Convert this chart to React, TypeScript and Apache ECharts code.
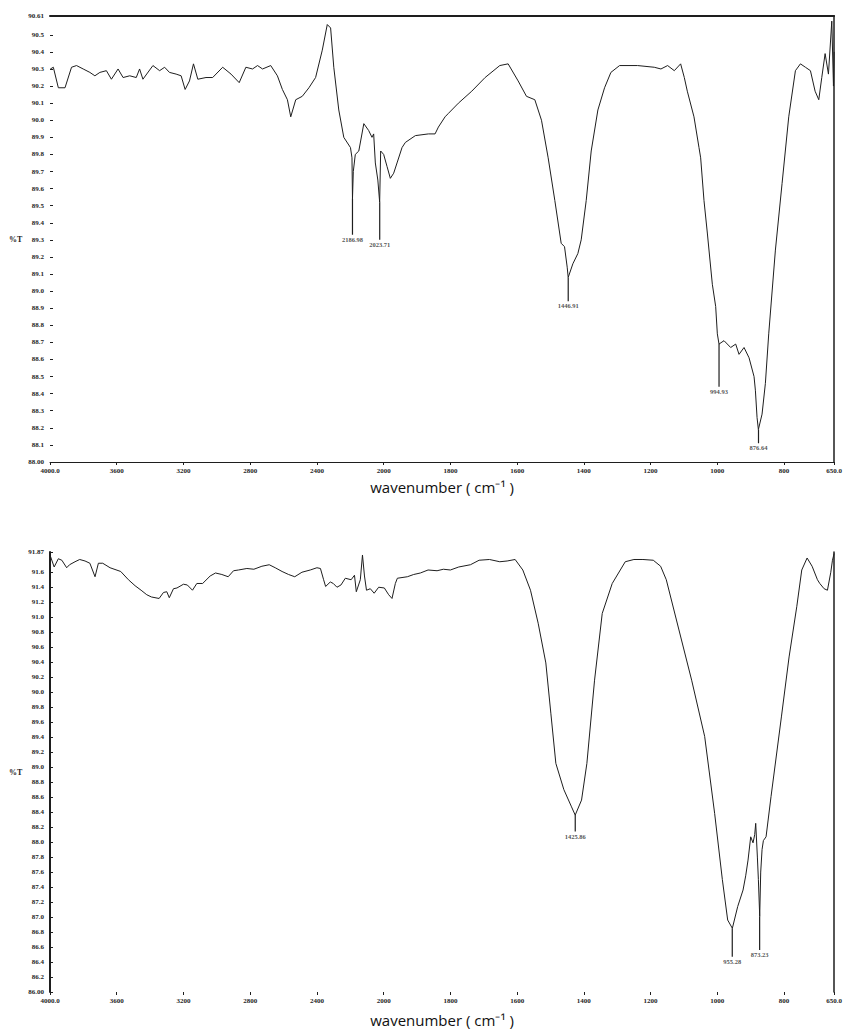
import React, { useEffect, useRef } from "react";
import * as echarts from "echarts";

// ---- axis ticks (wavenumber axis has a scale change at 2000 cm-1) ----
const X_TICK_WAVENUMBERS = [4000, 3600, 3200, 2800, 2400, 2000, 1800, 1600, 1400, 1200, 1000, 800, 650];
const X_TICK_LABELS = ["4000.0", "3600", "3200", "2800", "2400", "2000", "1800", "1600", "1400", "1200", "1000", "800", "650.0"];

const TOP_Y_TICKS = [88.0, 88.1, 88.2, 88.3, 88.4, 88.5, 88.6, 88.7, 88.8, 88.9, 89.0, 89.1, 89.2, 89.3, 89.4, 89.5, 89.6, 89.7, 89.8, 89.9, 90.0, 90.1, 90.2, 90.3, 90.4, 90.5, 90.61];
const TOP_Y_LABELS = ["88.00", "88.1", "88.2", "88.3", "88.4", "88.5", "88.6", "88.7", "88.8", "88.9", "89.0", "89.1", "89.2", "89.3", "89.4", "89.5", "89.6", "89.7", "89.8", "89.9", "90.0", "90.1", "90.2", "90.3", "90.4", "90.5", "90.61"];

const BOT_Y_TICKS = [86.0, 86.2, 86.4, 86.6, 86.8, 87.0, 87.2, 87.4, 87.6, 87.8, 88.0, 88.2, 88.4, 88.6, 88.8, 89.0, 89.2, 89.4, 89.6, 89.8, 90.0, 90.2, 90.4, 90.6, 90.8, 91.0, 91.2, 91.4, 91.6, 91.87];
const BOT_Y_LABELS = ["86.00", "86.2", "86.4", "86.6", "86.8", "87.0", "87.2", "87.4", "87.6", "87.8", "88.0", "88.2", "88.4", "88.6", "88.8", "89.0", "89.2", "89.4", "89.6", "89.8", "90.0", "90.2", "90.4", "90.6", "90.8", "91.0", "91.2", "91.4", "91.6", "91.87"];

// ---- spectrum 1 (top) ----
const TOP_WN = [3998, 3980, 3950, 3910, 3871, 3841, 3801, 3761, 3731, 3701, 3662, 3632, 3592, 3562, 3522, 3483, 3463, 3443, 3383, 3343, 3313, 3284, 3244, 3214, 3190, 3164, 3140, 3114, 3065, 3025, 2965, 2915, 2866, 2826, 2786, 2756, 2726, 2677, 2637, 2607, 2577, 2557, 2527, 2488, 2448, 2408, 2368, 2338, 2318, 2299, 2269, 2239, 2199, 2190, 2187, 2182, 2170, 2149, 2119, 2090, 2070, 2060, 2050, 2035, 2024, 2018, 2000, 1990, 1980, 1970, 1960, 1945, 1935, 1905, 1866, 1846, 1836, 1816, 1806, 1776, 1736, 1696, 1652, 1627, 1597, 1572, 1547, 1527, 1507, 1487, 1468, 1458, 1450, 1447, 1433, 1418, 1408, 1393, 1378, 1358, 1338, 1319, 1293, 1239, 1189, 1169, 1149, 1129, 1110, 1099, 1090, 1070, 1055, 1050, 1040, 1030, 1015, 1005, 1000, 995, 980, 960, 945, 935, 920, 905, 890, 886, 881, 877, 866, 856, 846, 826, 806, 786, 766, 751, 736, 721, 707, 696, 687, 677, 667, 657, 652, 650];
const TOP_T = [90.30, 90.31, 90.19, 90.19, 90.31, 90.32, 90.30, 90.28, 90.26, 90.28, 90.29, 90.24, 90.30, 90.25, 90.26, 90.25, 90.30, 90.24, 90.32, 90.29, 90.31, 90.28, 90.27, 90.26, 90.18, 90.23, 90.33, 90.24, 90.25, 90.25, 90.31, 90.27, 90.22, 90.31, 90.30, 90.32, 90.30, 90.32, 90.26, 90.18, 90.12, 90.02, 90.12, 90.14, 90.19, 90.25, 90.41, 90.56, 90.54, 90.31, 90.06, 89.90, 89.84, 89.78, 89.54, 89.70, 89.80, 89.82, 89.98, 89.94, 89.90, 89.92, 89.75, 89.65, 89.52, 89.82, 89.80, 89.73, 89.66, 89.69, 89.75, 89.84, 89.87, 89.91, 89.92, 89.92, 89.96, 90.02, 90.04, 90.10, 90.17, 90.25, 90.32, 90.33, 90.23, 90.14, 90.12, 90.00, 89.78, 89.53, 89.28, 89.26, 89.14, 89.08, 89.16, 89.22, 89.30, 89.53, 89.82, 90.06, 90.19, 90.28, 90.32, 90.32, 90.31, 90.30, 90.32, 90.29, 90.33, 90.25, 90.17, 90.02, 89.84, 89.78, 89.53, 89.34, 89.04, 88.91, 88.75, 88.69, 88.71, 88.67, 88.69, 88.63, 88.67, 88.61, 88.50, 88.42, 88.26, 88.19, 88.28, 88.46, 88.75, 89.24, 89.63, 90.02, 90.29, 90.33, 90.31, 90.29, 90.17, 90.12, 90.25, 90.39, 90.27, 90.58, 90.20, 90.40];
const TOP_PEAKS = [2186.98, 2023.71, 1446.91, 994.93, 876.64];
const TOP_STEM_FROM = [89.54, 89.52, 89.08, 88.69, 88.19];
const TOP_STEM_TO = [89.33, 89.30, 88.94, 88.44, 88.11];

// ---- spectrum 2 (bottom) ----
const BOT_WN = [4000, 3975, 3950, 3929, 3900, 3883, 3850, 3822, 3790, 3761, 3730, 3710, 3684, 3640, 3576, 3530, 3490, 3454, 3420, 3392, 3346, 3320, 3300, 3285, 3260, 3239, 3200, 3177, 3146, 3120, 3085, 3040, 3008, 2970, 2932, 2900, 2870, 2820, 2778, 2730, 2686, 2650, 2609, 2570, 2533, 2490, 2440, 2400, 2379, 2360, 2348, 2320, 2302, 2280, 2256, 2230, 2195, 2175, 2164, 2140, 2127, 2115, 2103, 2080, 2057, 2030, 1998, 1985, 1975, 1965, 1959, 1929, 1910, 1890, 1867, 1840, 1821, 1800, 1775, 1740, 1714, 1683, 1652, 1630, 1606, 1583, 1560, 1537, 1514, 1499, 1484, 1460, 1437, 1426, 1407, 1391, 1368, 1345, 1315, 1276, 1250, 1223, 1192, 1170, 1153, 1115, 1077, 1038, 1008, 985, 969, 955, 939, 923, 915, 908, 900, 893, 888, 885, 880, 877, 873, 870, 866, 862, 854, 839, 808, 785, 762, 747, 731, 716, 700, 693, 680, 670, 660, 655, 650];
const BOT_T = [91.83, 91.67, 91.78, 91.76, 91.66, 91.70, 91.74, 91.77, 91.75, 91.72, 91.54, 91.72, 91.72, 91.66, 91.61, 91.50, 91.42, 91.36, 91.30, 91.27, 91.25, 91.33, 91.34, 91.26, 91.38, 91.39, 91.44, 91.43, 91.36, 91.45, 91.45, 91.55, 91.59, 91.57, 91.54, 91.62, 91.63, 91.65, 91.64, 91.68, 91.70, 91.66, 91.61, 91.57, 91.54, 91.60, 91.63, 91.66, 91.65, 91.50, 91.41, 91.47, 91.45, 91.40, 91.43, 91.52, 91.50, 91.56, 91.34, 91.50, 91.83, 91.55, 91.36, 91.38, 91.32, 91.40, 91.39, 91.30, 91.25, 91.45, 91.52, 91.54, 91.57, 91.59, 91.63, 91.62, 91.64, 91.63, 91.67, 91.70, 91.76, 91.77, 91.74, 91.75, 91.77, 91.63, 91.36, 90.92, 90.39, 89.72, 89.05, 88.70, 88.47, 88.36, 88.56, 89.05, 90.16, 91.05, 91.45, 91.74, 91.77, 91.77, 91.76, 91.68, 91.50, 90.83, 90.16, 89.41, 88.38, 87.50, 86.96, 86.85, 87.14, 87.36, 87.55, 87.76, 88.07, 87.99, 88.10, 88.25, 87.80, 87.50, 87.01, 87.60, 87.90, 88.02, 88.07, 88.61, 89.67, 90.47, 91.14, 91.63, 91.79, 91.68, 91.50, 91.45, 91.38, 91.36, 91.60, 91.76, 91.85];
const BOT_PEAKS = [1425.86, 955.28, 873.23];
const BOT_STEM_FROM = [88.36, 86.85, 87.01];
const BOT_STEM_TO = [88.14, 86.47, 86.56];

// piecewise wavenumber scale: 400 cm-1 per division above 2000, 200 below
function toAxis(w: number): number {
  return w >= 2000 ? (4000 - w) / 400 : 5 + (2000 - w) / 200;
}

const X_TICK_POS = X_TICK_WAVENUMBERS.map(toAxis);
const X_MAX = toAxis(650);

const INK = "#1e1e1e";
const SERIF = "'Liberation Serif', 'DejaVu Serif', serif";
const SANS = "'Open Sans', 'Liberation Sans', sans-serif";

function lookup(ticks: number[], labels: string[], v: number): string {
  for (let i = 0; i < ticks.length; i++) if (Math.abs(ticks[i] - v) < 1e-6) return labels[i];
  return "";
}

function xAxisMain(gridIndex: number, showLine: boolean, nameGap: number) {
  return {
    type: "value",
    gridIndex,
    min: 0,
    max: X_MAX,
    axisLine: { show: showLine, lineStyle: { color: INK, width: 1 } },
    axisTick: { show: true, customValues: X_TICK_POS, length: 3, lineStyle: { color: INK } },
    axisLabel: {
      customValues: X_TICK_POS,
      formatter: (v: number) => lookup(X_TICK_POS, X_TICK_LABELS, v),
      fontFamily: SERIF,
      fontSize: 7,
      fontWeight: "bold",
      color: INK,
      margin: 5,
    },
    splitLine: { show: false },
    name: "wavenumber ( cm⁻¹ )",
    nameLocation: "middle",
    nameGap,
    nameTextStyle: { fontFamily: SANS, fontSize: 15, color: "#111" },
  };
}

function frameAxisX(gridIndex: number, width: number) {
  return {
    type: "value",
    gridIndex,
    position: "top",
    min: 0,
    max: X_MAX,
    axisLine: { show: true, onZero: false, lineStyle: { color: INK, width } },
    axisTick: { show: false },
    axisLabel: { show: false },
    splitLine: { show: false },
  };
}

function yAxisMain(gridIndex: number, min: number, max: number, ticks: number[], labels: string[], showLine: boolean) {
  return {
    type: "value",
    gridIndex,
    min,
    max,
    axisLine: { show: showLine, onZero: false, lineStyle: { color: INK, width: 2 } },
    axisTick: { show: true, inside: true, customValues: ticks, length: 3, lineStyle: { color: INK } },
    axisLabel: {
      customValues: ticks,
      formatter: (v: number) => lookup(ticks, labels, v),
      fontFamily: SERIF,
      fontSize: 7,
      fontWeight: "bold",
      color: INK,
      margin: 6,
    },
    splitLine: { show: false },
    name: "%T",
    nameLocation: "middle",
    nameRotate: 0,
    nameGap: 26,
    nameTextStyle: { fontFamily: SERIF, fontSize: 8, fontWeight: "bold", color: INK },
  };
}

function frameAxisY(gridIndex: number, min: number, max: number) {
  return {
    type: "value",
    gridIndex,
    position: "right",
    min,
    max,
    axisLine: { show: true, onZero: false, lineStyle: { color: INK, width: 1.5 } },
    axisTick: { show: false },
    axisLabel: { show: false },
    splitLine: { show: false },
  };
}

function spectrum(wn: number[], t: number[], xi: number, yi: number) {
  return {
    type: "line",
    xAxisIndex: xi,
    yAxisIndex: yi,
    data: wn.map((w, i) => [toAxis(w), t[i]]),
    symbol: "none",
    showSymbol: false,
    lineStyle: { color: INK, width: 1 },
    silent: true,
  };
}

function peakSeries(peaks: number[], from: number[], to: number[], xi: number, yi: number) {
  const stems = peaks.map((p, i) => ({
    type: "line",
    xAxisIndex: xi,
    yAxisIndex: yi,
    data: [
      [toAxis(p), from[i]],
      [toAxis(p), to[i]],
    ],
    symbol: "none",
    lineStyle: { color: INK, width: 1.2 },
    silent: true,
  }));
  const labels = {
    type: "scatter",
    xAxisIndex: xi,
    yAxisIndex: yi,
    symbolSize: 0,
    data: peaks.map((p, i) => ({ value: [toAxis(p), to[i]], name: p.toFixed(2) })),
    label: {
      show: true,
      position: "bottom",
      distance: 1,
      formatter: (d: any) => d.name,
      fontFamily: SERIF,
      fontSize: 6.5,
      fontWeight: "bold",
      color: INK,
    },
    silent: true,
  };
  return [...stems, labels];
}

export default function App() {
  const ref = useRef<HTMLDivElement>(null);
  useEffect(() => {
    if (!ref.current) return;
    const chart = echarts.init(ref.current, null, { renderer: "svg" });
    chart.setOption({
      animation: false,
      backgroundColor: "#ffffff",
      grid: [
        { left: 50, top: 16, width: 788, height: 446 },
        { left: 50, top: 552, width: 788, height: 440 },
      ],
      xAxis: [xAxisMain(0, true, 17), frameAxisX(0, 2), xAxisMain(1, false, 20)],
      yAxis: [
        yAxisMain(0, 88.0, 90.61, TOP_Y_TICKS, TOP_Y_LABELS, false),
        frameAxisY(0, 88.0, 90.61),
        yAxisMain(1, 86.0, 91.87, BOT_Y_TICKS, BOT_Y_LABELS, true),
        frameAxisY(1, 86.0, 91.87),
      ],
      series: [
        spectrum(TOP_WN, TOP_T, 0, 0),
        ...peakSeries(TOP_PEAKS, TOP_STEM_FROM, TOP_STEM_TO, 0, 0),
        spectrum(BOT_WN, BOT_T, 2, 2),
        ...peakSeries(BOT_PEAKS, BOT_STEM_FROM, BOT_STEM_TO, 2, 2),
      ],
    });
    return () => chart.dispose();
  }, []);
  return (
    <div
      ref={ref}
      style={{ position: "fixed", left: 0, top: 0, width: 845, height: 1030, background: "#fff" }}
    />
  );
}
